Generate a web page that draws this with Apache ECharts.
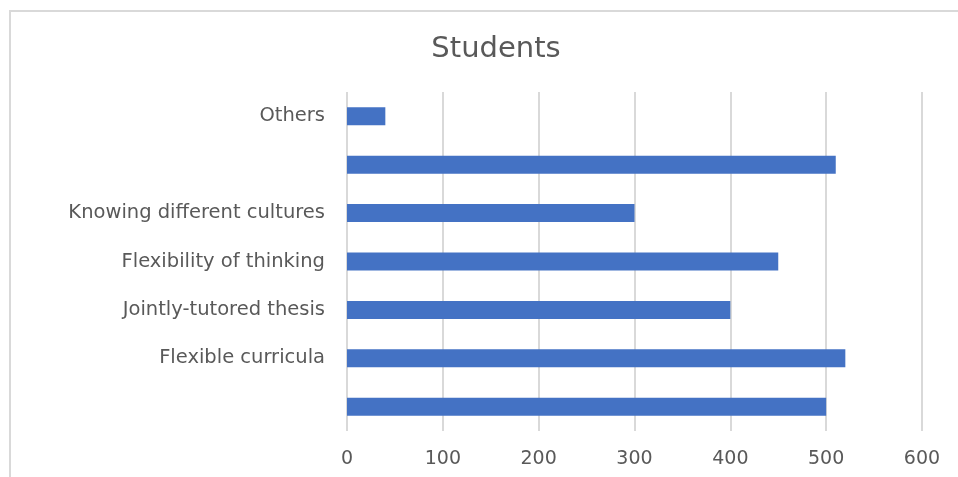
<!DOCTYPE html>
<html>
<head>
<meta charset="utf-8">
<script src="https://cdn.jsdelivr.net/npm/echarts@6/dist/echarts.min.js"></script>
<style>html,body{margin:0;padding:0;background:#fff;overflow:hidden;}#c{width:958px;height:477px;}</style>
</head>
<body>
<div id="c"></div>
<script>
const categories = ["Others", " ", "Knowing different cultures", "Flexibility of thinking", "Jointly-tutored thesis", "Flexible curricula", "  "];
const students = [40, 510, 300, 450, 400, 520, 500];
const xTicks = [0, 100, 200, 300, 400, 500, 600];

const chart = echarts.init(document.getElementById('c'));
const font = "'DejaVu Sans', 'Open Sans', sans-serif";
chart.setOption({
  animation: false,
  backgroundColor: '#fff',
  title: {
    text: 'Students',
    left: 491, top: 30, textAlign: 'center',
    textStyle: { fontFamily: font, fontSize: 29, fontWeight: 'normal', color: '#595959' }
  },
  graphic: [{
    type: 'polyline', silent: true,
    shape: { points: [[10, 480], [10, 11], [960, 11]] },
    style: { fill: 'none', stroke: '#d9d9d9', lineWidth: 2 }
  }],
  grid: { left: 347, right: 36, top: 92, bottom: 46 },
  xAxis: {
    type: 'value', min: xTicks[0], max: xTicks[xTicks.length - 1], interval: 100,
    axisLine: { show: false }, axisTick: { show: false },
    axisLabel: { fontFamily: font, fontSize: 19, color: '#595959', margin: 19 },
    splitLine: { lineStyle: { color: '#d9d9d9', width: 2 } }
  },
  yAxis: {
    type: 'category', data: categories, inverse: true,
    axisLine: { show: false }, axisTick: { show: false },
    axisLabel: { fontFamily: font, fontSize: 19.5, color: '#595959', margin: 22, padding: [4, 0, 0, 0] }
  },
  series: [{
    type: 'bar', data: students, barWidth: 18,
    itemStyle: { color: '#4472c4' }
  }]
});
</script>
</body>
</html>
